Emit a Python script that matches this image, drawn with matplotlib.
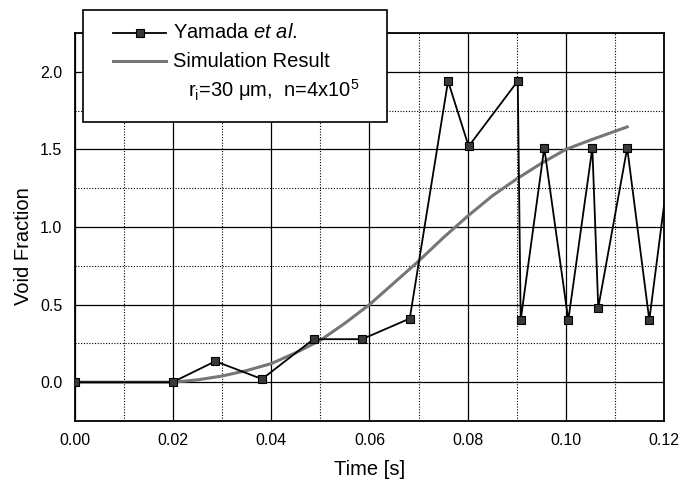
import matplotlib.pyplot as plt
from matplotlib.lines import Line2D
from matplotlib.patches import Rectangle
from matplotlib.ticker import MultipleLocator
import numpy as np

plt.rcParams['font.family'] = ['Liberation Sans', 'DejaVu Sans']
plt.rcParams['mathtext.fontset'] = 'custom'
plt.rcParams['mathtext.rm'] = 'Liberation Sans'
plt.rcParams['mathtext.it'] = 'Liberation Sans:italic'

# Yamada et al. measured points (last one falls just outside the axes)
yamada_t = [0.0, 0.0199, 0.0286, 0.0381, 0.0486, 0.0585, 0.0682, 0.0760, 0.0802,
            0.0902, 0.0908, 0.0956, 0.1005, 0.1054, 0.1066, 0.1125, 0.1170, 0.1215]
yamada_v = [0.0, 0.0, 0.135, 0.02, 0.277, 0.277, 0.41, 1.94, 1.52,
            1.94, 0.40, 1.51, 0.40, 1.51, 0.48, 1.51, 0.40, 1.51]

# simulation curve
sim_t = [0.0, 0.01, 0.02, 0.025, 0.03, 0.035, 0.04, 0.045, 0.05, 0.055, 0.06,
         0.065, 0.07, 0.075, 0.08, 0.085, 0.09, 0.095, 0.10, 0.105, 0.1125]
sim_v = [0.0, 0.0, 0.0, 0.015, 0.04, 0.075, 0.12, 0.19, 0.27, 0.38, 0.50,
         0.64, 0.78, 0.93, 1.07, 1.20, 1.31, 1.41, 1.50, 1.56, 1.645]

xticks = [0.0, 0.02, 0.04, 0.06, 0.08, 0.10, 0.12]
xticklabels = ['0.00', '0.02', '0.04', '0.06', '0.08', '0.10', '0.12']
yticks = [0.0, 0.5, 1.0, 1.5, 2.0]
yticklabels = ['0.0', '0.5', '1.0', '1.5', '2.0']

fig = plt.figure(figsize=(6.84, 4.83), dpi=100)
ax = fig.add_axes([0.1096, 0.1284, 0.8612, 0.8033])

sim_style = dict(color='#767676', lw=2.2)
yam_style = dict(color='black', lw=1.3, marker='s', ms=6, mfc='#3a3a3a', mec='black', mew=0.8)

ax.plot(sim_t, sim_v, zorder=3, **sim_style)
ax.plot(yamada_t, yamada_v, zorder=4, **yam_style)

ax.set_xlim(0, 0.12)
ax.set_ylim(-0.25, 2.25)
ax.xaxis.set_minor_locator(MultipleLocator(0.01))
ax.yaxis.set_minor_locator(MultipleLocator(0.25))
ax.set_xticks(xticks)
ax.set_xticklabels(xticklabels)
ax.set_yticks(yticks)
ax.set_yticklabels(yticklabels)
ax.grid(which='major', color='black', lw=0.9, ls='-')
ax.grid(which='minor', color='black', lw=0.8, ls=(0, (1, 1.5)))
ax.tick_params(which='both', length=0, labelsize=11.5, pad=9)
for s in ax.spines.values():
    s.set_linewidth(1.3)

ax.set_xlabel('Time [s]', fontsize=14.5, labelpad=8)
ax.set_ylabel('Void Fraction', fontsize=14.5, labelpad=4)
ax.yaxis.set_label_coords(-0.071, 0.45)

# legend box drawn by hand so it can overhang the top of the axes
tf = fig.transFigure
fig.add_artist(Rectangle((0.1213, 0.7474), 0.4445, 0.2319, transform=tf,
                         facecolor='white', edgecolor='black', lw=1.2, zorder=10))
fig.add_artist(Line2D([0.1652, 0.2427], [0.9317, 0.9317], transform=tf, zorder=11,
                      color='black', lw=1.3))
fig.add_artist(Line2D([0.2040], [0.9317], transform=tf, zorder=12, ls='none',
                      marker='s', ms=6, mfc='#3a3a3a', mec='black', mew=0.8))
fig.add_artist(Line2D([0.1652, 0.2427], [0.8737, 0.8737], transform=tf, zorder=11,
                      **sim_style))
fig.text(0.2529, 0.9317, 'Yamada $\\mathit{et\\ al.}$', fontsize=14.5, va='center',
         zorder=12)
fig.text(0.2529, 0.8737, 'Simulation Result', fontsize=14.5, va='center', zorder=12)
fig.text(0.2749, 0.8137, 'r$_\\mathregular{i}$=30 \u03bcm,  n=4x10$^\\mathregular{5}$',
         fontsize=14.5, va='center', zorder=12)

fig.savefig('out.png', dpi=100)
